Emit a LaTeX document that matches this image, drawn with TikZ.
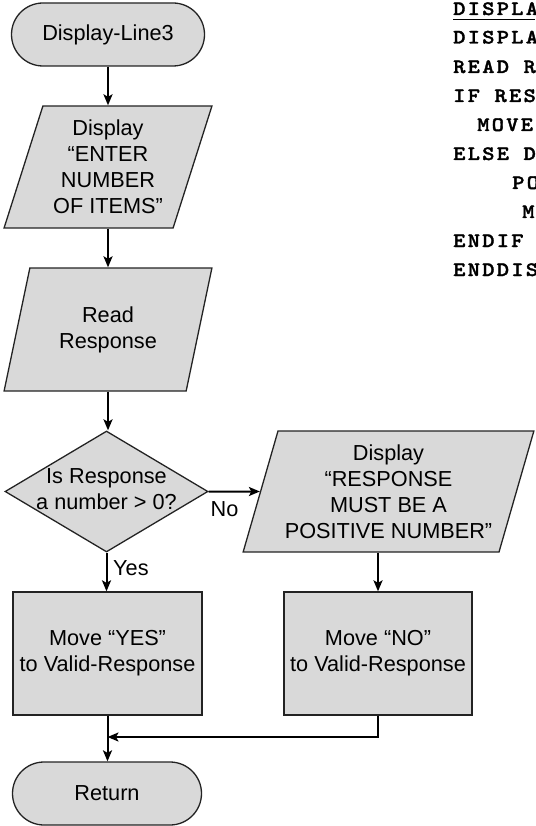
\documentclass[tikz,border=0pt]{standalone}
\usepackage{fontspec}
\setmainfont{Liberation Sans}
\newfontfamily\codefont[FakeStretch=1.14,LetterSpace=11,FakeBold=1.6]{lmmonolt10-bold.otf}
\usetikzlibrary{shapes.geometric,arrows.meta}
\definecolor{boxgray}{RGB}{217,217,217}
\definecolor{edgegray}{RGB}{35,35,35}
\begin{document}
\begin{tikzpicture}[x=1pt,y=-1pt,
  shapebase/.style={draw=edgegray,line width=1.3pt,fill=boxgray,inner sep=0pt,
    align=center,font=\fontsize{21.7}{26}\selectfont},
  termbox/.style={shapebase,rectangle,rounded corners=31.5pt,minimum height=63pt},
  iobox/.style={shapebase,trapezium,trapezium left angle=70.8,
    trapezium right angle=109.2,trapezium stretches=true},
  decbox/.style={shapebase,diamond,minimum width=203pt,minimum height=121pt},
  procbox/.style={shapebase,rectangle,minimum width=189pt,minimum height=123pt},
  flowline/.style={line width=2pt,draw=black},
  flowarrow/.style={flowline,-{Stealth[length=11pt,width=9pt,inset=2.5pt]}},
  lbl/.style={font=\fontsize{21.7}{26}\selectfont,inner sep=0pt,align=center},
  codeline/.style={anchor=base west,inner sep=0pt,
    font=\codefont\fontsize{20.5}{24}\selectfont}
]
\useasboundingbox (0,0) rectangle (535,826);

% ---- flowchart, left column ----
\node[termbox,minimum width=193pt] (start) at (108,34.5) {Display-Line3};
\node[iobox,minimum width=208pt,minimum height=122pt] (disp1) at (108,167)
  {Display\\“ENTER\\NUMBER\\OF ITEMS”};
\node[iobox,minimum width=208pt,minimum height=123pt] (read) at (108,329.5)
  {Read\\Response};
\node[decbox] (dec) at (106.5,491.5) {};
\node[lbl] (dectext) at (106.5,489) {Is Response\\a number > 0?};
\node[procbox] (yes) at (107.5,653.5) {Move “YES”\\to Valid-Response};
\node[termbox,minimum width=189pt] (ret) at (107,793.5) {Return};

% ---- right column ----
\node[iobox,minimum width=291pt,minimum height=121pt] (disp2) at (388.5,491.5)
  {Display\\“RESPONSE\\MUST BE A\\POSITIVE NUMBER”};
\node[procbox,minimum width=188pt] (no) at (378,653.5) {Move “NO”\\to Valid-Response};

% ---- connectors ----
\draw[flowarrow] (start.south) -- (start.south |- disp1.north);
\draw[flowarrow] (disp1.south) -- (disp1.south |- read.north);
\draw[flowarrow] (read.south) -- (read.south |- dec.north);
\draw[flowarrow] (dec.east) -- (disp2);
\draw[flowarrow] (dec.south) -- (dec.south |- yes.north);
\draw[flowarrow] (no.north |- disp2.south) -- (no.north);
\draw[flowarrow] (yes.south) -- (yes.south |- ret.north);
\coordinate (join) at (107.5,737);
\draw[flowarrow] (no.south) |- (join);

\node[lbl] (nolbl) at (224.5,509) {No};
\node[lbl,anchor=west] (yeslbl) at (113,568) {Yes};

% ---- pseudocode listing ----
\node[codeline] (c1) at (453,15) {DISPLA};
\draw[line width=1pt] (453,19.5) -- (535,19.5);
\node[codeline] (c2) at (453,43.5) {DISPLA};
\node[codeline] (c3) at (453,73) {READ R};
\node[codeline] (c4) at (453,102) {IF RES};
\node[codeline] (c5) at (477,131) {MOVE};
\node[codeline] (c6) at (453,160) {ELSE D};
\node[codeline] (c7) at (512,189) {PO};
\node[codeline] (c8) at (522,218) {M};
\node[codeline] (c9) at (453,247) {ENDIF};
\node[codeline] (c10) at (453,276) {ENDDIS};
\end{tikzpicture}
\end{document}
